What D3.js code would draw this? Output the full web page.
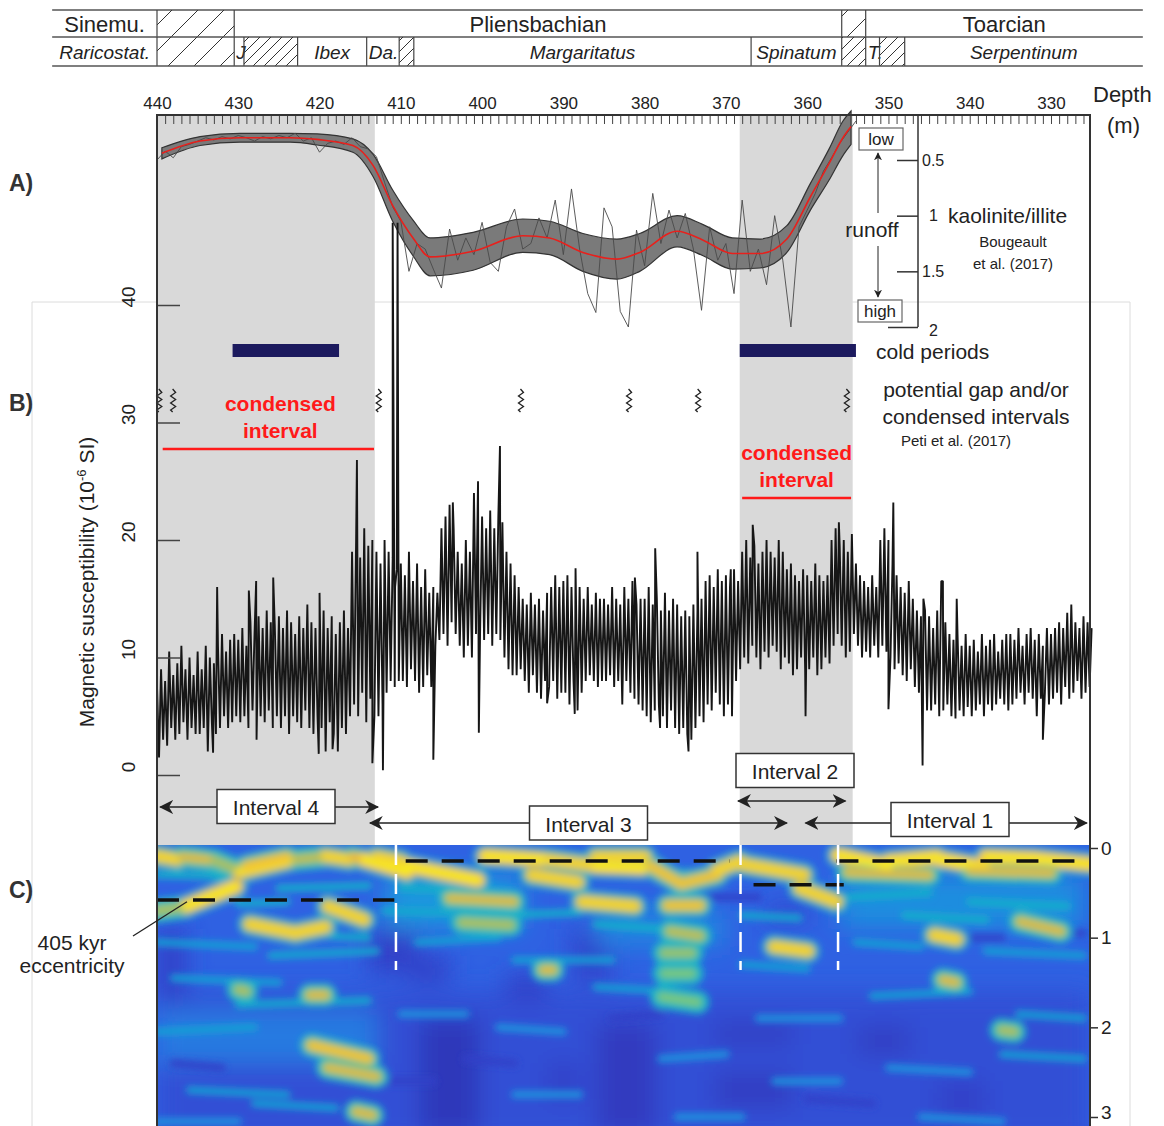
<!DOCTYPE html>
<html>
<head>
<meta charset="utf-8">
<script src="https://cdn.jsdelivr.net/npm/d3@7"></script>
<style>
  body { margin: 0; background: #fff; }
  svg { display: block; font-family: "Liberation Sans", Arial, Helvetica, sans-serif; }
</style>
</head>
<body>
<svg id="chart" width="1164" height="1126"></svg>
<script>
// ---- stratigraphy (depth boundaries in m, null name = hatched / undefined)
const stageNames = ["Sinemu.", null, "Pliensbachian", null, "Toarcian"];
const stageBounds = [452.9, 440, 430.5, 355.75, 352.8, 318.7];
const zoneNames = ["Raricostat.", null, "J", null, "Ibex", "Da.", null, "Margaritatus", "Spinatum", null, "T.", null, "Serpentinum"];
const zoneBounds = [452.9, 440, 430.5, 429.3, 422.7, 414.2, 410.2, 408.4, 366.9, 355.75, 352.8, 351.1, 348, 318.7];

// ---- shaded (condensed) intervals, cold periods, gaps
const shadedIntervals = [[440, 413.2], [368.3, 354.4]];
const coldPeriods = [[430.7, 417.6], [368.3, 354]];
const condensedLines = [[439.3, 413.3], [368, 354.6]];
const gapDepths = [439.9, 438.2, 412.9, 395.4, 382.1, 373.6, 355.3];

// ---- A) kaolinite/illite (Bougeault et al. 2017)
const kiRawStart = 440; // raw samples every 1 m downward
const kiRaw = [0.50, 0.42, 0.48, 0.38, 0.36, 0.33, 0.30, 0.32, 0.29, 0.31,
  0.28, 0.30, 0.33, 0.29, 0.31, 0.28, 0.30, 0.26, 0.33, 0.30,
  0.43, 0.35, 0.33, 0.36, 0.30, 0.38, 0.40, 0.47, 0.70, 0.92,
  1.05, 1.50, 1.25, 1.30, 1.48, 1.65, 1.12, 1.40, 1.20, 1.35,
  1.06, 1.42, 1.50, 1.10, 0.94, 1.30, 1.25, 1.02, 1.20, 0.86,
  1.35, 0.76, 1.30, 1.70, 1.87, 0.93, 1.10, 1.86, 2.00, 1.13,
  1.45, 0.80, 1.25, 0.95, 1.20, 0.98, 1.30, 1.85, 1.10, 1.40,
  1.25, 1.70, 0.86, 1.50, 1.30, 1.62, 1.00, 1.40, 2.00, 1.10,
  0.95, 0.80, 0.60, 0.48, 0.35, 0.25, 0.15];
const kiSmoothDepth = [439.4, 434.7, 429.8, 423.6, 420.3, 415.9, 413.4, 411, 408.5, 406.4, 401.1, 395, 391.7,
  387.6, 383.4, 380.6, 376, 372.8, 369.2, 365.8, 362.5, 359.6, 357.3, 355.6, 354.6];
const kiSmooth = [0.44, 0.33, 0.30, 0.30, 0.315, 0.37, 0.55, 0.91, 1.2, 1.37, 1.32, 1.18, 1.2,
  1.33, 1.39, 1.33, 1.14, 1.22, 1.34, 1.34, 1.21, 0.83, 0.53, 0.30, 0.20];
const kiBandLow = [0.39, 0.29, 0.26, 0.26, 0.265, 0.31, 0.45, 0.77, 1.04, 1.20, 1.15, 1.03, 1.05,
  1.16, 1.21, 1.16, 1.00, 1.08, 1.20, 1.21, 1.09, 0.71, 0.40, 0.15, 0.06];
const kiBandHigh = [0.49, 0.37, 0.34, 0.34, 0.365, 0.43, 0.65, 1.05, 1.36, 1.54, 1.49, 1.33, 1.35,
  1.50, 1.57, 1.50, 1.28, 1.36, 1.48, 1.47, 1.33, 0.95, 0.68, 0.46, 0.36];

// ---- B) magnetic susceptibility (10^-6 SI), envelope read every 0.5 m from 440 m
const msStart = 440;
const msTop = [7.5, 9, 8, 10.5, 8.5, 9.5, 11, 9, 10, 8.5,
  10.5, 9, 11, 10, 9.5, 11, 12, 10.5, 11.5, 12,
  11.5, 12.5, 11, 13, 12, 13.5, 12.5, 14, 13, 12.5,
  13.5, 12.5, 14, 13, 12, 13.5, 12.5, 14.5, 13, 12.5,
  13, 14, 12.5, 13.5, 12, 13, 14, 12.5, 19, 20,
  18.5, 21, 19.5, 20, 19, 18, 20, 19, 18.5, 17.5,
  18, 17, 19, 16.5, 18, 16, 17.5, 15.5, 16, 15.5,
  21, 22, 23, 21, 19, 18, 20, 19, 24, 25,
  22, 21, 22.5, 21, 22, 21.5, 19, 18, 17, 16,
  15, 14.5, 15.5, 14.5, 15, 14, 15.5, 16, 17, 16,
  16.5, 17, 16, 17.5, 16, 15, 16, 14.5, 15.5, 15,
  15, 14.5, 16, 15, 14.5, 16, 15, 16.5, 14.5, 15,
  15, 16, 14.5, 15, 14, 15.5, 14, 15, 14.5, 13.5,
  14, 13.5, 14.5, 14, 15, 16.5, 17, 16, 17.5, 16.5,
  17, 16, 17.5, 16.5, 19, 20, 18.5, 19.5, 18, 19,
  20, 19, 18.5, 20, 19, 17.5, 18, 17, 16.5, 17.5,
  17, 16.5, 18, 17, 16.5, 17, 20, 21, 19.5, 20,
  19, 20.5, 18, 17, 16.5, 16, 17, 16, 20, 21,
  20, 18, 17, 16, 15.5, 16.5, 15, 14, 13.5, 14,
  13.5, 12.5, 14, 16.5, 13, 12, 11.5, 12, 11, 12,
  11, 11.5, 10.5, 12, 11, 11.5, 12, 10.5, 11.5, 12,
  12, 11.5, 12.5, 11, 12, 12.5, 11.5, 12, 11, 12.5,
  12, 12.5, 13, 12.5, 13.8, 14.5, 13, 12.5, 13.5, 13,
  12.5];
const msBottom = [1.5, 3, 2.5, 4, 3, 3.5, 4.5, 3, 4, 3.5,
  3.5, 4, 2, 4.5, 3.5, 4, 5, 4, 4.5, 5,
  4.5, 5, 4, 5.5, 3, 5, 4.5, 5.5, 4, 5,
  4, 5, 3.5, 5, 4.5, 4, 5.5, 4, 3.5, 5,
  4, 2, 4.5, 3.5, 2, 4, 3.5, 5, 6, 5,
  7, 4.5, 6.5, 5, 5, 6, 7, 8, 7.5, 8,
  8, 7.5, 9, 8, 7, 7.5, 8.5, 7.5, 11, 11.5,
  12, 11, 13, 12, 11, 10, 11, 10, 12, 12,
  11.5, 12, 11, 12, 11.5, 10, 9, 8.5, 8.5, 9,
  8, 7, 8.5, 7, 6.5, 8, 7.5, 8, 6.5, 7,
  7, 6, 8, 5.5, 7, 8, 8.5, 8, 7.5, 8,
  8, 8.5, 7.5, 8, 6, 8, 7, 6.5, 6, 5.5,
  5, 4.5, 5.5, 6, 5, 4, 5.5, 4, 3.5, 4,
  3.5, 3, 4, 5, 4.5, 6, 5.5, 7, 6, 5,
  6, 5, 8, 9, 10, 9.5, 11, 10, 9, 10.5,
  10, 11, 10.5, 9, 10, 9.5, 8.5, 9, 10, 9,
  9, 10, 8.5, 9, 10, 9.5, 11, 12, 11, 10,
  10.5, 12, 11, 10, 10.5, 10, 11, 10, 11, 10.5,
  10, 9, 9.5, 8.5, 8, 9, 7.5, 7, 6, 5.5,
  5.5, 6, 5, 5.5, 6, 5, 4.8, 5.5, 5, 5.8,
  5, 5.5, 6, 5, 6, 5.5, 6, 6.5, 6, 5.5,
  6, 6.5, 7, 6, 7, 6.5, 5, 6.5, 7, 6,
  6.5, 7, 6, 7.5, 6.5, 7, 8, 6.5, 7, 7.5];
const msSpikes = [[433.1, 1.9], [432.6, 16], [428.7, 15.7], [427.8, 16.5], [425.7, 16.8], [420.1, 1.8],
  [420, 15.5], [418.4, 2.2], [415.4, 26.8], [413.5, 1], [412.2, 0.4], [411.0, 47], [410.7, 16],
  [410.4, 47], [406, 1.3], [403.6, 23.2], [400.4, 3.6], [397.8, 28], [392, 6.1], [388.6, 5.2],
  [388.5, 17.6], [381.2, 16.8], [378.7, 19.3], [378.1, 4], [374.6, 2], [373.5, 19], [369.4, 17.5],
  [366.7, 21.3], [360.2, 5], [356.1, 21.5], [350, 5.6], [349.4, 23.2], [345.8, 0.8], [345.7, 15],
  [343.3, 16.5], [341.6, 15], [331, 3]];

// ---- intervals (depth ranges of the arrows; first value = left end)
const intervalNames = ["Interval 4", "Interval 3", "Interval 2", "Interval 1"];
const intervalRanges = [[439.6, 412.8], [413.8, 362.5], [368.5, 355.3], [360.2, 325.6]];

// ---- C) evolutive spectrum: [depth1, depth2, freq1 (cycles/m), freq2, relative power 0..1]
const specBackground = 0.34;
const specPatches = [
  [440, 325.2, 1.6, 3.3, 0.27],
  [407.7, 400.3, 1.9, 3.2, 0.15], [385.9, 378.6, 1.95, 3.2, 0.17], [371.4, 361.8, 1.95, 2.2, 0.18],
  [371.4, 361.8, 2.5, 2.9, 0.18], [353.8, 347.4, 2.0, 2.3, 0.18], [344, 338, 2.6, 3.0, 0.2],
  [392, 388, 2.4, 2.8, 0.2], [365, 360, 0.65, 0.8, 0.2], [352, 347, 0.5, 0.75, 0.2],
  [409, 404, 1.2, 1.5, 0.2], [397, 392, 1.4, 1.7, 0.2], [440, 436.5, 0.9, 1.7, 0.2],
  [414, 408, 0.9, 1.4, 0.2], [389, 384, 0.9, 1.5, 0.22],
  [440, 413, 1.8, 2.4, 0.42], [412, 395, 0.3, 0.9, 0.5], [356, 326, 0.3, 0.9, 0.48], [386, 370, 0.7, 1.1, 0.45]];
const specStreaks = [
  [440, 430, 0.3, 0.32, 0.6], [425, 414, 0.45, 0.42, 0.6], [440, 428, 1.05, 1.1, 0.55], [426, 413, 1.2, 1.15, 0.58],
  [438, 425, 1.45, 1.5, 0.55], [430, 414, 1.75, 1.7, 0.58], [440, 428, 2.05, 2.0, 0.55], [436, 424, 2.7, 2.75, 0.55],
  [428, 418, 2.85, 2.9, 0.55], [440, 430, 3.05, 3.05, 0.5], [410, 400, 0.45, 0.48, 0.6], [398, 388, 0.75, 0.72, 0.6],
  [386, 378, 0.85, 0.9, 0.6], [408, 398, 1.05, 1.0, 0.55], [396, 384, 1.25, 1.25, 0.55], [386, 376, 1.55, 1.6, 0.55],
  [410, 402, 1.85, 1.85, 0.5], [398, 390, 2.0, 2.05, 0.5], [378, 370, 2.35, 2.3, 0.5], [396, 388, 2.75, 2.75, 0.5],
  [376, 368, 3.0, 3.0, 0.5], [368, 361, 0.75, 0.78, 0.58], [368, 360, 1.3, 1.35, 0.55], [366, 356, 1.9, 1.9, 0.5],
  [364, 356, 2.6, 2.6, 0.5], [355, 345, 0.55, 0.5, 0.6], [348, 338, 0.75, 0.8, 0.6], [340, 328, 0.6, 0.65, 0.6],
  [354, 346, 1.05, 1.1, 0.55], [338, 326, 1.15, 1.2, 0.55], [352, 340, 1.65, 1.6, 0.55], [334, 326, 1.85, 1.9, 0.55],
  [350, 340, 2.45, 2.5, 0.5], [336, 326, 2.3, 2.35, 0.55], [346, 336, 3.0, 3.05, 0.5], [420, 414, 0.98, 1.0, 0.6],
  [412, 404, 0.7, 0.72, 0.58], [430, 424, 0.62, 0.6, 0.6], [380, 372, 0.25, 0.28, 0.6], [402, 396, 2.35, 2.4, 0.2],
  [438, 432, 2.4, 2.45, 0.2], [384, 378, 1.9, 1.85, 0.2], [360, 352, 2.8, 2.85, 0.2], [344, 336, 1.0, 1.0, 0.2],
  [414, 406, 2.6, 2.6, 0.2], [372, 366, 0.55, 0.55, 0.2], [332, 326, 0.95, 0.95, 0.2]];
const specRidges = [
  [440, 437.4, 0.09, 0.13, 0.95], [437, 435, 0.1, 0.12, 0.85], [435.6, 433, 0.11, 0.14, 0.85],
  [433, 430, 0.14, 0.25, 0.8], [429.9, 423.3, 0.27, 0.13, 0.97], [429, 424, 0.2, 0.1, 0.9],
  [423, 419.5, 0.13, 0.1, 0.82], [419.3, 416.3, 0.09, 0.13, 0.95], [416, 414.5, 0.1, 0.13, 0.88],
  [414.5, 409.2, 0.13, 0.27, 1], [413, 410, 0.1, 0.15, 0.95], [409.2, 400.5, 0.2, 0.36, 1],
  [399.6, 392.1, 0.09, 0.13, 1], [392, 386, 0.13, 0.2, 0.95],
  [393.9, 388.2, 0.3, 0.38, 0.95], [385.9, 380.2, 0.2, 0.22, 1], [386, 380, 0.1, 0.1, 0.95],
  [379.3, 375.5, 0.2, 0.4, 0.9], [375.5, 371.1, 0.4, 0.3, 0.9], [371.1, 368.3, 0.25, 0.15, 0.95],
  [387.7, 381.2, 0.6, 0.65, 0.95], [377.2, 373.2, 0.64, 0.64, 0.9], [376.9, 373.2, 0.93, 0.98, 0.82],
  [440, 436.5, 0.7, 0.66, 0.8], [436.4, 430.3, 0.65, 0.43, 1], [428.6, 423, 0.85, 0.95, 0.95],
  [423, 419.3, 0.95, 0.88, 0.95], [419, 414.5, 0.65, 0.8, 0.95], [404, 396.1, 0.56, 0.6, 0.85],
  [402.5, 396.5, 0.83, 0.86, 0.8], [392.5, 391.3, 1.36, 1.36, 0.85], [421.2, 419.3, 1.64, 1.64, 0.85],
  [377.6, 374.2, 1.17, 1.17, 0.78], [377.6, 374.2, 1.4, 1.4, 0.75], [377.9, 373.5, 1.66, 1.72, 0.75],
  [368, 360.4, 0.18, 0.3, 0.95], [360.9, 356.4, 0.45, 0.6, 0.95], [364.1, 359.9, 1.1, 1.15, 0.95],
  [356.2, 350, 0.08, 0.2, 1], [350, 344, 0.15, 0.1, 1], [344, 338, 0.12, 0.22, 1], [338, 332, 0.1, 0.12, 1],
  [332, 325.2, 0.12, 0.18, 1], [355, 345, 0.27, 0.3, 0.85], [340, 330, 0.25, 0.28, 0.85],
  [344.4, 341.6, 0.97, 1.02, 0.95], [333.8, 328.8, 0.82, 0.93, 0.85], [343.3, 341.7, 1.47, 1.5, 0.85],
  [336.1, 334.5, 2.03, 2.05, 0.8], [421, 414, 2.2, 2.35, 0.9], [419, 413, 2.45, 2.55, 0.85],
  [415.5, 413.5, 2.94, 2.98, 0.85], [430, 429, 1.58, 1.6, 0.8]];
// interpreted cycle tracks (dashed) and interval limits
const cycleTracks = [[440, 410.8, 0.58], [409.4, 369.5, 0.145], [366.6, 355.5, 0.41], [356.4, 326.8, 0.145]];
const intervalLimits = [410.6, 368.2, 356.2];

// ================= drawing =================
const svg = d3.select("#chart");
const font = '"Liberation Sans", Arial, Helvetica, sans-serif';
const ink = "#222";
const plotTop = 115, specTop = 845, bottom = 1126;

const x = d3.scaleLinear().domain([440, 325.2]).range([157, 1090]);
const yMS = d3.scaleLinear().domain([0, 40]).range([775, 305]);
const yKI = d3.scaleLinear().domain([0.5, 2]).range([160, 327]);
const yF = d3.scaleLinear().domain([0, 3]).range([848, 1117]);
const powerColor = d3.scaleLinear()
  .domain([0, 0.2, 0.35, 0.5, 0.62, 0.75, 0.87, 1])
  .range(["#2a1f8f", "#3140c8", "#2f63e4", "#1a95de", "#18b5c6", "#7cc77a", "#f2b63b", "#f7ea24"]);

const defs = svg.append("defs");
function hatch(id, s) {
  const p = defs.append("pattern").attr("id", id).attr("patternUnits", "userSpaceOnUse")
    .attr("width", s).attr("height", s);
  p.append("path").attr("d", `M0,${s} L${s},0 M${-s / 4},${s / 4} L${s / 4},${-s / 4} M${s * 0.75},${s * 1.25} L${s * 1.25},${s * 0.75}`)
    .attr("stroke", "#333").attr("stroke-width", 1);
}
hatch("hatchWide", 26);
hatch("hatchNarrow", 11);
function marker(id, size) {
  defs.append("marker").attr("id", id).attr("viewBox", "0 0 12 12").attr("refX", 11).attr("refY", 6)
    .attr("markerWidth", size).attr("markerHeight", size).attr("markerUnits", "userSpaceOnUse")
    .attr("orient", "auto-start-reverse")
    .append("path").attr("d", "M0,0 L12,6 L0,12 L3.5,6 Z").attr("fill", ink);
}
marker("arrow", 14);
marker("arrowSmall", 8);
function blur(id, s) {
  defs.append("filter").attr("id", id).attr("filterUnits", "userSpaceOnUse")
    .attr("x", 100).attr("y", 800).attr("width", 1050).attr("height", 380)
    .append("feGaussianBlur").attr("stdDeviation", s);
}
blur("blurWide", 12);
blur("blur", 3.6);
defs.append("clipPath").attr("id", "specClip").append("rect")
  .attr("x", x(440)).attr("y", specTop).attr("width", x(325.2) - x(440)).attr("height", bottom - specTop);

// faint frame of the pasted panel
svg.append("path").attr("d", "M32,1126 V302 H1130 V1126").attr("fill", "none").attr("stroke", "#dcdcdc");

// shaded intervals
svg.append("g").selectAll("rect").data(shadedIntervals).join("rect")
  .attr("x", d => x(d[0])).attr("width", d => x(d[1]) - x(d[0]))
  .attr("y", plotTop).attr("height", specTop - plotTop).attr("fill", "#d9d9d9");

// ---- stratigraphic table
function tableRow(names, bounds, y0, y1, italic, size, wideFirst) {
  const g = svg.append("g");
  names.forEach((n, i) => {
    const a = x(bounds[i]), b = x(bounds[i + 1]);
    if (n === null) {
      const wide = wideFirst || (b - a) > 70;
      g.append("rect").attr("x", a).attr("y", y0).attr("width", b - a).attr("height", y1 - y0)
        .attr("fill", `url(#${wide ? "hatchWide" : "hatchNarrow"})`);
    } else {
      g.append("text").attr("x", n.length < 4 ? a + 2 : (a + b) / 2).attr("y", (y0 + y1) / 2 + 1)
        .attr("text-anchor", n.length < 4 ? "start" : "middle").attr("dominant-baseline", "central")
        .attr("font-size", size).attr("font-style", italic ? "italic" : "normal").attr("fill", ink).text(n);
    }
    if (i > 0) g.append("line").attr("x1", a).attr("x2", a).attr("y1", y0).attr("y2", y1).attr("stroke", "#444").attr("stroke-width", 1.2);
  });
  g.append("line").attr("x1", x(bounds[0])).attr("x2", x(bounds[bounds.length - 1])).attr("y1", y1).attr("y2", y1)
    .attr("stroke", "#555").attr("stroke-width", 1.5);
}
svg.append("line").attr("x1", x(stageBounds[0])).attr("x2", x(stageBounds[stageBounds.length - 1]))
  .attr("y1", 10).attr("y2", 10).attr("stroke", "#555").attr("stroke-width", 1.5);
tableRow(stageNames, stageBounds, 10, 37, false, 22, true);
tableRow(zoneNames, zoneBounds, 37, 66, true, 19, false);

// ---- top depth axis
svg.append("g").attr("transform", `translate(0,${plotTop})`)
  .call(d3.axisTop(x).tickValues(d3.range(440, 325, -1)).tickSize(-9).tickPadding(6)
    .tickFormat(d => d % 10 === 0 ? d : ""))
  .call(g => g.select(".domain").remove())
  .call(g => g.selectAll("line").attr("stroke", "#444"))
  .call(g => g.selectAll("text").attr("font-size", 17).attr("fill", ink).attr("font-family", font));
svg.append("text").attr("x", 1093).attr("y", 102).attr("font-size", 22).attr("fill", ink).text("Depth");
svg.append("text").attr("x", 1107).attr("y", 133).attr("font-size", 22).attr("fill", ink).text("(m)");

// ---- A) kaolinite / illite
const kiX = i => x(kiSmoothDepth[i]);
const band = d3.area().curve(d3.curveMonotoneX).x((d, i) => kiX(i))
  .y0((d, i) => yKI(kiBandLow[i])).y1((d, i) => yKI(kiBandHigh[i]));
svg.append("path").datum(kiSmooth).attr("d", band).attr("fill", "#7a7a7a").attr("stroke", "#333").attr("stroke-width", 1.2);
svg.append("path").datum(kiRaw)
  .attr("d", d3.line().x((d, i) => x(kiRawStart - i)).y(d => yKI(d)))
  .attr("fill", "none").attr("stroke", "#4a4a4a").attr("stroke-width", 0.9);
svg.append("path").datum(kiSmooth)
  .attr("d", d3.line().curve(d3.curveMonotoneX).x((d, i) => kiX(i)).y(d => yKI(d)))
  .attr("fill", "none").attr("stroke", "#e8201c").attr("stroke-width", 1.6);

// K/I axis
const kiAxisX = 918;
svg.append("line").attr("x1", kiAxisX).attr("x2", kiAxisX).attr("y1", plotTop).attr("y2", yKI(2))
  .attr("stroke", "#333").attr("stroke-width", 1.5);
svg.append("g").attr("transform", `translate(${kiAxisX},0)`)
  .call(d3.axisLeft(yKI).tickValues([0.5, 1, 1.5, 2]).tickSize(21).tickFormat(""))
  .call(g => g.select(".domain").remove())
  .call(g => g.selectAll("line").attr("stroke", "#333").attr("stroke-width", 1.5).attr("x2", d => d === 2 ? -30 : -21));
[[0.5, "0.5", 922, 0], [1, "1", 929, 0], [1.5, "1.5", 922, 0], [2, "2", 929, 3]].forEach(t => {
  svg.append("text").attr("x", t[2]).attr("y", yKI(t[0]) + t[3]).attr("dominant-baseline", "central")
    .attr("font-size", 16).attr("fill", ink).text(t[1]);
});
svg.append("text").attr("x", 948).attr("y", yKI(1)).attr("dominant-baseline", "central").attr("font-size", 21).attr("fill", ink).text("kaolinite/illite");
svg.append("text").attr("x", 1013).attr("y", 241).attr("text-anchor", "middle").attr("dominant-baseline", "central").attr("font-size", 15).attr("fill", ink).text("Bougeault");
svg.append("text").attr("x", 1013).attr("y", 263).attr("text-anchor", "middle").attr("dominant-baseline", "central").attr("font-size", 15).attr("fill", ink).text("et al. (2017)");

// runoff arrow and boxes
[["low", 881, 139], ["high", 880, 311]].forEach(b => {
  svg.append("rect").attr("x", b[1] - 22).attr("y", b[2] - 11).attr("width", 44).attr("height", 22)
    .attr("fill", "#fff").attr("stroke", "#666").attr("stroke-width", 1.2);
  svg.append("text").attr("x", b[1]).attr("y", b[2]).attr("text-anchor", "middle").attr("dominant-baseline", "central")
    .attr("font-size", 17).attr("fill", ink).text(b[0]);
});
svg.append("line").attr("x1", 878).attr("x2", 878).attr("y1", 213).attr("y2", 153).attr("stroke", ink).attr("marker-end", "url(#arrowSmall)");
svg.append("line").attr("x1", 878).attr("x2", 878).attr("y1", 246).attr("y2", 297).attr("stroke", ink).attr("marker-end", "url(#arrowSmall)");
svg.append("text").attr("x", 872).attr("y", 229).attr("text-anchor", "middle").attr("dominant-baseline", "central")
  .attr("font-size", 21).attr("fill", ink).text("runoff");

// ---- B) magnetic susceptibility
const msPts = [];
msTop.forEach((v, i) => {
  const d = msStart - i * 0.5;
  msPts.push([d, v]);
  if (i < msBottom.length) msPts.push([d - 0.25, msBottom[i]]);
});
msSpikes.forEach(s => msPts.push(s));
msPts.sort((a, b) => b[0] - a[0]);
svg.append("path").datum(msPts)
  .attr("d", d3.line().x(d => x(d[0])).y(d => yMS(d[1])))
  .attr("fill", "none").attr("stroke", "#161616").attr("stroke-width", 1.9).attr("stroke-linejoin", "bevel");

// MS axis (ticks inward, rotated labels)
svg.append("g").attr("transform", `translate(${x(440)},0)`)
  .call(d3.axisLeft(yMS).tickValues([0, 10, 20, 30, 40]).tickSize(-23).tickFormat(""))
  .call(g => g.select(".domain").remove())
  .call(g => g.selectAll("line").attr("stroke", "#444").attr("stroke-width", 1.5));
svg.append("g").selectAll("text").data([0, 10, 20, 30, 40]).join("text")
  .attr("transform", d => `translate(135,${yMS(d) - 8}) rotate(-90)`)
  .attr("text-anchor", "middle").attr("font-size", 19).attr("fill", ink).text(d => d);
const msLabel = svg.append("text").attr("transform", "translate(94,582) rotate(-90)")
  .attr("text-anchor", "middle").attr("font-size", 21).attr("fill", ink);
msLabel.append("tspan").text("Magnetic susceptibility (10");
msLabel.append("tspan").attr("font-size", 13).attr("dy", -8).text("-6");
msLabel.append("tspan").attr("dy", 8).text(" SI)");

// cold periods
svg.append("g").selectAll("rect").data(coldPeriods).join("rect")
  .attr("x", d => x(d[0])).attr("width", d => x(d[1]) - x(d[0]))
  .attr("y", 344).attr("height", 13).attr("fill", "#1c1a5e");
svg.append("text").attr("x", 876).attr("y", 351).attr("dominant-baseline", "central").attr("font-size", 21).attr("fill", ink).text("cold periods");

// gap symbols
svg.append("g").selectAll("path").data(gapDepths).join("path")
  .attr("d", d => `M${x(d) + 1},389 l3,3.5 l-5,3.5 l5,3.5 l-5,3.5 l5,3.5 l-5,3.5 l2,2`)
  .attr("fill", "none").attr("stroke", ink).attr("stroke-width", 1.3);
[["potential gap and/or", 389], ["condensed intervals", 416]].forEach(t => {
  svg.append("text").attr("x", 976).attr("y", t[1]).attr("text-anchor", "middle").attr("dominant-baseline", "central")
    .attr("font-size", 21).attr("fill", ink).text(t[0]);
});
svg.append("text").attr("x", 956).attr("y", 440).attr("text-anchor", "middle").attr("dominant-baseline", "central")
  .attr("font-size", 15).attr("fill", ink).text("Peti et al. (2017)");

// condensed intervals
const condensedY = [449, 498];
svg.append("g").selectAll("line").data(condensedLines).join("line")
  .attr("x1", d => x(d[0])).attr("x2", d => x(d[1]))
  .attr("y1", (d, i) => condensedY[i]).attr("y2", (d, i) => condensedY[i])
  .attr("stroke", "#ff1a1a").attr("stroke-width", 2.5);
condensedLines.forEach((d, i) => {
  const cx = (x(d[0]) + x(d[1])) / 2 + (i === 0 ? 12 : 0), cy = condensedY[i] - 46;
  ["condensed", "interval"].forEach((w, j) => {
    svg.append("text").attr("x", cx).attr("y", cy + j * 27).attr("text-anchor", "middle").attr("dominant-baseline", "central")
      .attr("font-size", 21).attr("font-weight", "bold").attr("fill", "#ff1a1a").text(w);
  });
});

// ---- interval arrows
const intervalRow = [807, 823, 801, 823];
const intervalLabel = [[276, 806.5], [588.5, 823], [795, 770.5], [950, 819.5]];
intervalRanges.forEach((r, i) => {
  svg.append("line").attr("x1", x(r[0])).attr("x2", x(r[1])).attr("y1", intervalRow[i]).attr("y2", intervalRow[i])
    .attr("stroke", ink).attr("stroke-width", 1.5)
    .attr("marker-start", "url(#arrow)").attr("marker-end", "url(#arrow)");
});
intervalNames.forEach((n, i) => {
  const [cx, cy] = intervalLabel[i];
  svg.append("rect").attr("x", cx - 59).attr("y", cy - 17).attr("width", 118).attr("height", 34)
    .attr("fill", "#fff").attr("stroke", "#333").attr("stroke-width", 1.5);
  svg.append("text").attr("x", cx).attr("y", cy + 1).attr("text-anchor", "middle").attr("dominant-baseline", "central")
    .attr("font-size", 21).attr("fill", ink).text(n);
});

// ---- C) evolutive spectrum
const spec = svg.append("g").attr("clip-path", "url(#specClip)");
spec.append("rect").attr("x", x(440)).attr("y", specTop).attr("width", x(325.2) - x(440)).attr("height", bottom - specTop)
  .attr("fill", powerColor(specBackground));
spec.append("g").attr("filter", "url(#blurWide)")
  .selectAll("rect").data(specPatches).join("rect")
  .attr("x", d => x(d[0])).attr("width", d => x(d[1]) - x(d[0]))
  .attr("y", d => yF(d[2])).attr("height", d => yF(d[3]) - yF(d[2]))
  .attr("fill", d => powerColor(d[4]));
const specFine = spec.append("g").attr("filter", "url(#blur)");
function ridgeLines(cls, data, color, width) {
  specFine.selectAll(`line.${cls}`).data(data).join("line").attr("class", cls)
    .attr("x1", d => x(d[0])).attr("x2", d => x(d[1])).attr("y1", d => yF(d[2])).attr("y2", d => yF(d[3]))
    .attr("stroke", color).attr("stroke-width", width).attr("stroke-linecap", "round");
}
ridgeLines("streak", specStreaks, d => powerColor(d[4]), 7);
ridgeLines("halo", specRidges, powerColor(0.6), 24);
ridgeLines("mid", specRidges, d => powerColor(d[4] * 0.87), 15);
ridgeLines("core", specRidges, d => powerColor(d[4]), 8);

spec.selectAll("line.track").data(cycleTracks).join("line").attr("class", "track")
  .attr("x1", d => x(d[0])).attr("x2", d => x(d[1])).attr("y1", d => yF(d[2])).attr("y2", d => yF(d[2]))
  .attr("stroke", "#111").attr("stroke-width", 3.5).attr("stroke-dasharray", "22,14");
spec.selectAll("line.limit").data(intervalLimits).join("line").attr("class", "limit")
  .attr("x1", d => x(d)).attr("x2", d => x(d)).attr("y1", specTop).attr("y2", yF(1.36))
  .attr("stroke", "#fff").attr("stroke-width", 2.5).attr("stroke-dasharray", "20,9");

svg.append("g").attr("transform", `translate(${x(325.2)},0)`)
  .call(d3.axisRight(yF).tickValues([0, 1, 2, 3]).tickSize(8).tickPadding(3).tickFormat(d3.format("d")))
  .call(g => g.select(".domain").remove())
  .call(g => g.selectAll("line").attr("stroke", "#333").attr("stroke-width", 1.5))
  .call(g => g.selectAll("text").attr("font-size", 19).attr("fill", ink).attr("font-family", font)
    .attr("dy", d => d === 3 ? "0.1em" : "0.32em"));

// frame
svg.append("path").attr("d", `M${x(440)},${bottom} V${plotTop} H${x(325.2)} V${bottom}`)
  .attr("fill", "none").attr("stroke", "#333").attr("stroke-width", 2);

// 405 kyr annotation
svg.append("line").attr("x1", 133).attr("y1", 936).attr("x2", 187).attr("y2", yF(0.6)).attr("stroke", ink).attr("stroke-width", 1.3);
svg.append("text").attr("x", 72).attr("y", 942).attr("text-anchor", "middle").attr("dominant-baseline", "central").attr("font-size", 21).attr("fill", ink).text("405 kyr");
svg.append("text").attr("x", 72).attr("y", 965).attr("text-anchor", "middle").attr("dominant-baseline", "central").attr("font-size", 21).attr("fill", ink).text("eccentricity");

// panel letters
[["A)", 183], ["B)", 403], ["C)", 890]].forEach(p => {
  svg.append("text").attr("x", 9).attr("y", p[1]).attr("dominant-baseline", "central")
    .attr("font-size", 23).attr("font-weight", "bold").attr("fill", "#333").text(p[0]);
});
</script>
</body>
</html>
